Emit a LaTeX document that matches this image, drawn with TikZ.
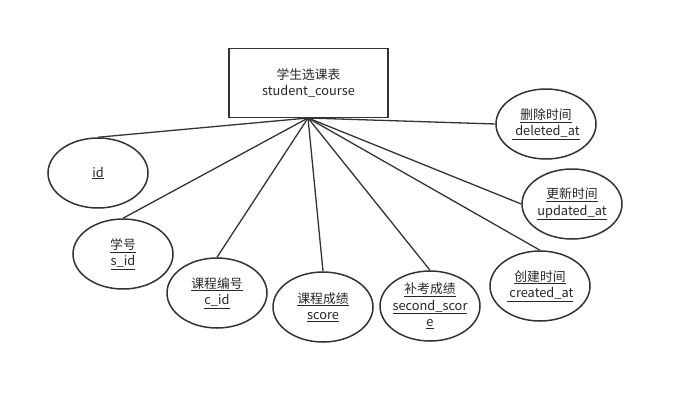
\documentclass[tikz,border=0pt]{standalone}
\usepackage{fontspec}
\usetikzlibrary{shapes.geometric}
\setmainfont{Noto Sans CJK SC}
\begin{document}
\begin{tikzpicture}[x=1pt,y=-1pt,
  ent/.style={draw=black!80,line width=1.5pt,minimum width=159pt,minimum height=69pt,align=center,inner sep=0pt},
  attr/.style={draw=black!80,line width=1.5pt,ellipse,minimum width=100pt,minimum height=70pt,align=center,inner sep=0pt},
  link/.style={draw=black!80,line width=1.3pt},
  every node/.style={font=\fontsize{12.8}{16.5}\selectfont,text=black!85}]
\useasboundingbox (0,0) rectangle (684,402);
\node[ent] (t) at (308.5,83) {学生选课表\\student\_course};
\coordinate (c) at (308,118);
\node[attr] (id) at (98,173) {\underline{id}};
\node[attr] (sid) at (123,254) {\underline{学号}\\\underline{s\_id}};
\node[attr] (cid) at (217,293) {\underline{课程编号}\\\underline{c\_id}};
\node[attr] (sc) at (323,307) {\underline{课程成绩}\\\underline{score}};
\node[attr,inner sep=-4pt] (ss) at (430,306) {\underline{补考成绩}\\\underline{second\_scor}\\\underline{e}};
\node[attr] (ca) at (540,286) {\underline{创建时间}\\\underline{\ created\_at}};
\node[attr] (ua) at (572,204) {\underline{更新时间}\\\underline{updated\_at}};
\node[attr] (da) at (546,124) {\underline{删除时间}\\\underline{\ deleted\_at}};
\draw[link] (c) -- (id.north);
\draw[link] (c) -- (sid.north);
\draw[link] (c) -- (cid.north);
\draw[link] (c) -- (sc.north);
\draw[link] (c) -- (ss.north);
\draw[link] (c) -- (ca.north);
\draw[link] (c) -- (ua.west);
\draw[link] (c) -- (da.west);
\end{tikzpicture}
\end{document}
